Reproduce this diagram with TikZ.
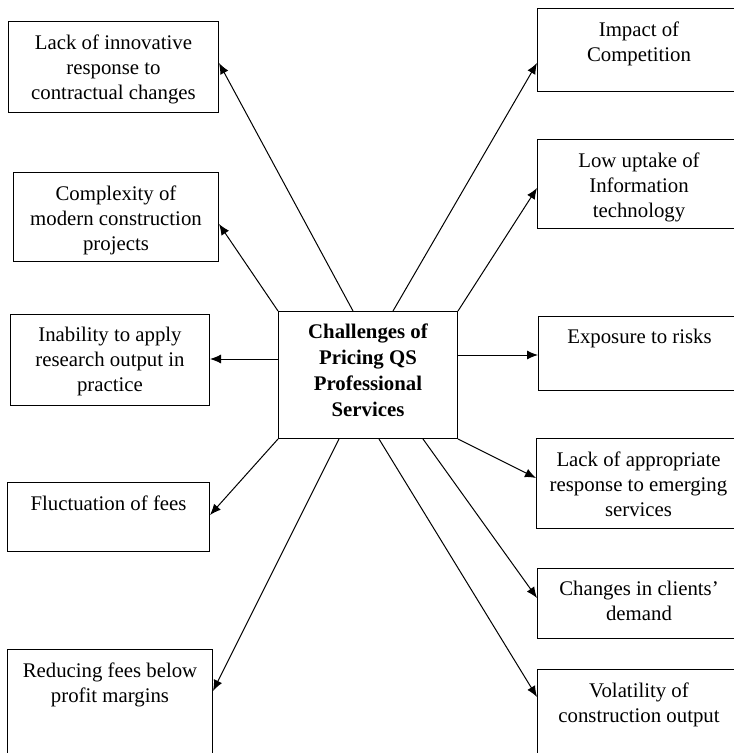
\documentclass[tikz,border=0pt]{standalone}
\usepackage{fontspec}
\setmainfont{Liberation Serif}
\usetikzlibrary{%
  arrows.meta,%
  positioning%
}

\begin{document}
\begin{tikzpicture}
[x=0.5pt, y=-0.5pt, line width=0.5pt, >={Latex[length=5.5pt,width=4.5pt]},
font=\fontsize{10.4}{12.5}\selectfont,
item/.style={rectangle, draw, anchor=north west, inner sep=0pt},
txt/.style={anchor=north, align=center, inner sep=6.5pt},
hub/.style={rectangle, draw, anchor=north west, inner sep=0pt, minimum width=89.5pt, minimum height=63.5pt},
hubtxt/.style={anchor=north, align=center, inner sep=6pt, font=\fontsize{10.4}{13}\selectfont\bfseries}]

\useasboundingbox (0,0) rectangle (733,753);

% centre
\node[hub, label={[hubtxt]north:Challenges of\\Pricing QS\\Professional\\Services}] (ctr) at (278,311) {};

% left column
\node[item, minimum width=105pt, minimum height=45.5pt,
  label={[txt]north:Lack of innovative\\response to\\contractual changes}] (l1) at (8,21) {};
\node[item, minimum width=102.5pt, minimum height=44.5pt,
  label={[txt]north:Complexity of\\modern construction\\projects}] (l2) at (13,172) {};
\node[item, minimum width=99.5pt, minimum height=45.5pt,
  label={[txt]north:Inability to apply\\research output in\\practice}] (l3) at (10,314) {};
\node[item, minimum width=101pt, minimum height=34.5pt,
  label={[txt]north:Fluctuation of fees}] (l4) at (7,482) {};
\node[item, minimum width=102.5pt, minimum height=63pt,
  label={[txt]north:Reducing fees below\\profit margins}] (l5) at (7,649) {};

% right column
\node[item, minimum width=101.5pt, minimum height=41.5pt,
  label={[txt]north:Impact of\\Competition}] (r1) at (537,8) {};
\node[item, minimum width=101.5pt, minimum height=44.5pt,
  label={[txt]north:Low uptake of\\Information\\technology}] (r2) at (537,139) {};
\node[item, minimum width=101pt, minimum height=37pt,
  label={[txt]north:Exposure to risks}] (r3) at (538,316) {};
\node[item, minimum width=102pt, minimum height=45pt,
  label={[txt]north:Lack of appropriate\\response to emerging\\services}] (r4) at (536,438) {};
\node[item, minimum width=101.5pt, minimum height=35pt,
  label={[txt]north:Changes in clients'\\demand}] (r5) at (537,568) {};
\node[item, minimum width=101.5pt, minimum height=53pt,
  label={[txt]north:Volatility of\\construction output}] (r6) at (537,669) {};

% arrows
\draw[->] ([xshift=37.5pt]ctr.north west) -- ([yshift=-21pt]l1.north east);
\draw[->] (ctr.north west) -- ([yshift=-26pt]l2.north east);
\draw[->] ([yshift=-24pt]ctr.north west) -- ([yshift=-22.5pt]l3.north east);
\draw[->] (ctr.south west) -- ([yshift=-16.5pt]l4.north east);
\draw[->] ([xshift=30.5pt]ctr.south west) -- ([yshift=-21pt]l5.north east);

\draw[->] ([xshift=57.5pt]ctr.north west) -- ([yshift=-27.5pt]r1.north west);
\draw[->] (ctr.north east) -- ([yshift=-24.5pt]r2.north west);
\draw[->] ([yshift=-22pt]ctr.north east) -- ([yshift=-19.5pt]r3.north west);
\draw[->] (ctr.south east) -- ([yshift=-20pt]r4.north west);
\draw[->] ([xshift=72.5pt]ctr.south west) -- ([yshift=-15pt]r5.north west);
\draw[->] ([xshift=50.5pt]ctr.south west) -- ([yshift=-14pt]r6.north west);
\end{tikzpicture}
\end{document}
